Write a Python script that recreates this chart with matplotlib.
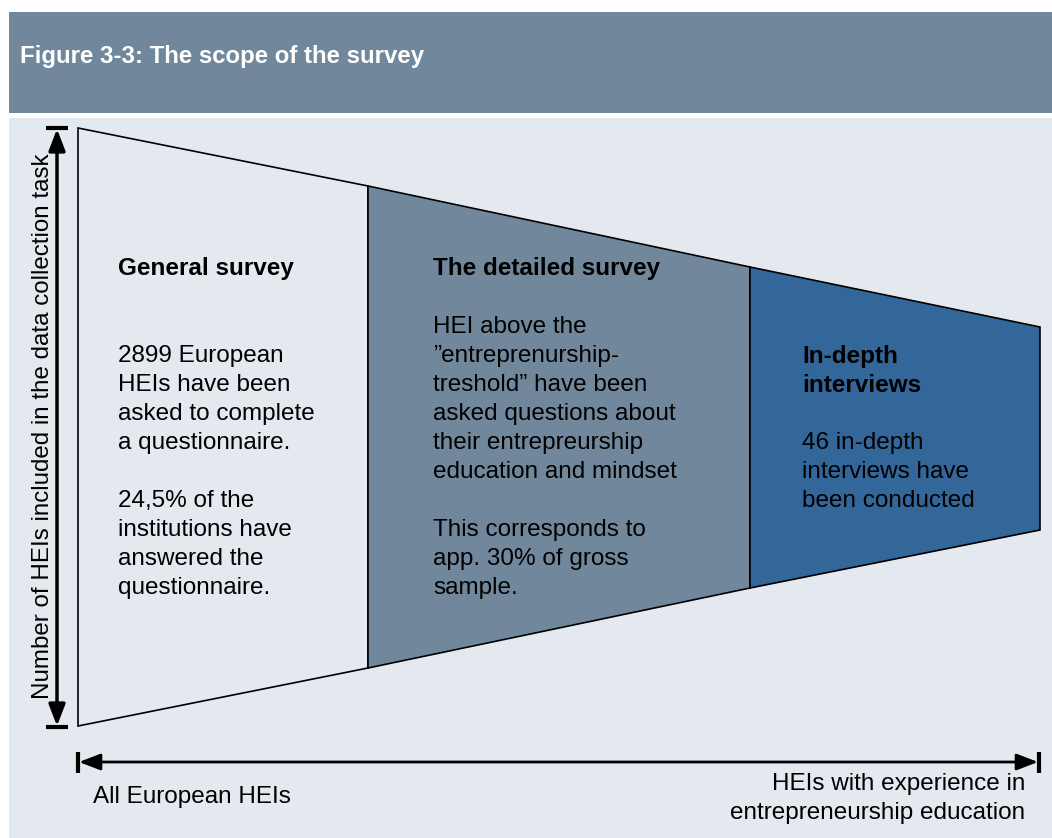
import matplotlib.pyplot as plt
from matplotlib.patches import Polygon, Rectangle

plt.rcParams['font.family'] = ['Liberation Sans', 'DejaVu Sans']

# funnel geometry (pixel coords of the source figure)
edge_x = [78, 368, 750, 1040]
edge_top = [128, 186, 267, 327]
edge_bottom = [726, 668, 588, 530]
fills = ['#E4E9F0', '#71889C', '#336699']

title = "Figure 3-3: The scope of the survey"
headings = [["General survey"], ["The detailed survey"], ["In-depth", "interviews"]]
bodies = [
    ["2899 European", "HEIs have been", "asked to complete", "a questionnaire.", "",
     "24,5% of the", "institutions have", "answered the", "questionnaire."],
    ["HEI above the", "\u201dentreprenurship-", "treshold\u201d have been", "asked questions about",
     "their entrepreurship", "education and mindset", "", "This corresponds to",
     "app. 30% of gross", "sample."],
    ["46 in-depth", "interviews have", "been conducted"],
]
text_x = [118, 433, 802]
heading_y = [268, 268, 356]
body_y = [356, 327, 443]
ylabel = "Number of HEIs included in the data collection task"
left_label = "All European HEIs"
right_label = ["HEIs with experience in", "entrepreneurship education"]

fig = plt.figure(figsize=(10.52, 8.38), dpi=100)
ax = fig.add_axes([0, 0, 1, 1])
ax.set_xlim(0, 1052)
ax.set_ylim(838, 0)
ax.axis('off')

# header + panel
ax.add_patch(Rectangle((9, 12), 1043, 101, color='#71889C', lw=0))
ax.add_patch(Rectangle((9, 118), 1043, 720, color='#E4E9F0', lw=0))
ax.text(20, 57, title, color='white', fontsize=17.3, fontweight='bold', va='center')

for i in range(3):
    pts = [(edge_x[i], edge_top[i]), (edge_x[i+1], edge_top[i+1]),
           (edge_x[i+1], edge_bottom[i+1]), (edge_x[i], edge_bottom[i])]
    ax.add_patch(Polygon(pts, closed=True, facecolor=fills[i], edgecolor='black', lw=1.2))

fs = 17.5
for i in range(3):
    for k, line in enumerate(headings[i]):
        ax.text(text_x[i], heading_y[i] + 29 * k, line, fontsize=fs, fontweight='bold', va='center')
    for k, line in enumerate(bodies[i]):
        ax.text(text_x[i], body_y[i] + 29 * k, line, fontsize=fs, va='center')

# vertical arrow
ax.annotate('', xy=(57, 129), xytext=(57, 726),
            arrowprops=dict(arrowstyle='<|-|>,head_length=1.3,head_width=0.5', lw=2.5, color='black',
                            shrinkA=0, shrinkB=0))
ax.plot([46, 68], [128, 128], color='black', lw=3, solid_capstyle='butt')
ax.plot([46, 68], [727, 727], color='black', lw=3, solid_capstyle='butt')
ax.text(43, 426, ylabel, rotation=90, fontsize=17.4, va='center', ha='center')

# horizontal arrow
ax.annotate('', xy=(79, 762), xytext=(1038, 762),
            arrowprops=dict(arrowstyle='<|-|>,head_length=1.3,head_width=0.5', lw=2, color='black',
                            shrinkA=0, shrinkB=0))
ax.plot([78, 78], [752, 773], color='black', lw=3, solid_capstyle='butt')
ax.plot([1039, 1039], [752, 773], color='black', lw=3, solid_capstyle='butt')
ax.text(93, 797, left_label, fontsize=fs, va='center')
ax.text(1025, 784, right_label[0], fontsize=fs, va='center', ha='right')
ax.text(1025, 813, right_label[1], fontsize=fs, va='center', ha='right')

fig.savefig('out.png', dpi=100)
